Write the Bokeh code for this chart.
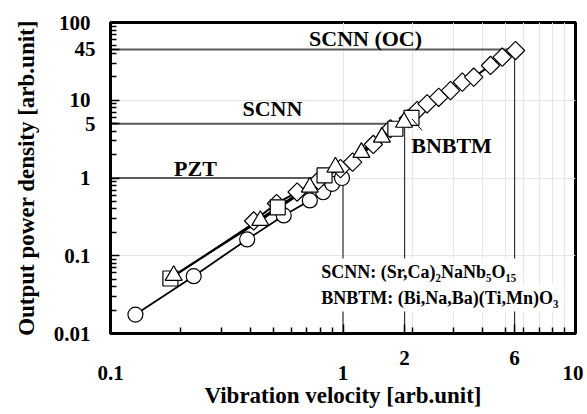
import math
from bokeh.plotting import figure
from bokeh.models import FixedTicker, Label, LogAxis
from bokeh.embed import file_html
from bokeh.resources import INLINE

# ---- data ----
pzt_v = [0.128, 0.228, 0.387, 0.556, 0.72, 0.822, 0.899, 0.99]
pzt_p = [0.0175, 0.0546, 0.162, 0.33, 0.514, 0.656, 0.842, 1.0]

tri_v = [0.187, 0.441, 0.72, 0.928, 1.20, 1.47, 1.83]
tri_p = [0.0557, 0.284, 0.76, 1.38, 2.13, 3.35, 5.2]

sq_v = [0.181, 0.524, 0.833, 1.68, 1.97]
sq_p = [0.051, 0.42, 1.08, 4.3, 5.94]

dia_v = [0.413, 0.518, 0.635, 0.785, 0.975, 1.10, 1.35, 1.60, 1.91, 2.085,
         2.30, 2.58, 2.90, 3.26, 3.65, 4.31, 4.84, 5.52]
dia_p = [0.28, 0.47, 0.66, 0.93, 1.32, 1.60, 2.7, 4.3, 5.82, 7.38,
         9.0, 10.9, 13.3, 17.1, 19.8, 28.0, 35.8, 43.6]

# reference levels (power) and the velocities where they are reached
ref_power = [1, 5, 45]
ref_velocity = [1.0, 1.84, 5.47]
ref_power_labels = ["1", "5", "45"]
ref_velocity_labels = ["1", "2", "6"]

x_decades = [0.1, 1, 10]
y_decades = [0.01, 0.1, 1, 10, 100]
x_decade_labels = ["0.1", "1", "10"]
y_decade_labels = ["0.01", "0.1", "1", "10", "100"]

series_names = ["PZT", "SCNN", "SCNN (OC)", "BNBTM"]
name_pos_v = [0.232, 0.497, 1.25, 2.93]
name_pos_p = [1.32, 7.8, 62, 2.62]

formula_lines = ["SCNN: (Sr,Ca)\u2082NaNb\u2085O\u2081\u2085",
                 "BNBTM: (Bi,Na,Ba)(Ti,Mn)O\u2083"]
formula_v = [0.775, 0.775]
formula_p = [0.0609, 0.029]

leader_v = [1.98, 2.19]
leader_p = [5.77, 4.08]

FONT = "Liberation Serif"


def minors(majors):
    out = []
    for m in majors[:-1]:
        out += [m * k for k in range(2, 10)]
    return out


p = figure(width=583, height=413, x_axis_type="log", y_axis_type="log",
           x_axis_location=None, y_axis_location=None,
           x_range=(0.1, 10), y_range=(0.01, 100),
           output_backend="svg", toolbar_location=None,
           min_border_left=110, min_border_right=8,
           min_border_top=22, min_border_bottom=80)

p.outline_line_color = "black"
p.outline_line_width = 3
p.background_fill_color = "white"
p.border_fill_color = "white"


def style_labels(ax, size="21px"):
    ax.major_label_text_font = FONT
    ax.major_label_text_font_style = "bold"
    ax.major_label_text_font_size = size
    ax.major_label_text_color = "black"
    ax.axis_label_text_font = FONT
    ax.axis_label_text_font_style = "bold"
    ax.axis_label_text_color = "black"


def inner_axis(decades, special_vals, special_labels, standoff):
    ticks = sorted(set(decades) | set(special_vals[1:]))
    overrides = {d: "" for d in decades}
    for v, lab in zip(special_vals[1:], special_labels[1:]):
        overrides[v] = lab
    ax = LogAxis(ticker=FixedTicker(ticks=ticks, minor_ticks=minors(decades)),
                 major_label_overrides=overrides)
    ax.axis_line_width = 3
    ax.axis_line_color = "black"
    ax.major_tick_in = 9
    ax.major_tick_out = 0
    ax.minor_tick_in = 6
    ax.minor_tick_out = 0
    ax.major_tick_line_width = 1.5
    ax.minor_tick_line_width = 1.5
    ax.major_label_standoff = standoff
    style_labels(ax)
    return ax


def outer_axis(decades, labels, standoff, title, title_size, title_standoff):
    ax = LogAxis(ticker=FixedTicker(ticks=decades, minor_ticks=[]),
                 major_label_overrides=dict(zip(decades, labels)))
    ax.axis_line_color = None
    ax.major_tick_line_color = None
    ax.minor_tick_line_color = None
    ax.major_tick_in = 0
    ax.major_tick_out = 0
    ax.minor_tick_in = 0
    ax.minor_tick_out = 0
    ax.major_label_standoff = standoff
    ax.axis_label = title
    ax.axis_label_standoff = title_standoff
    style_labels(ax)
    ax.axis_label_text_font_size = title_size
    return ax


p.add_layout(inner_axis(x_decades, ref_velocity, ref_velocity_labels, 17), "below")
p.add_layout(outer_axis(x_decades, x_decade_labels, -2,
                        "Vibration velocity [arb.unit]", "23px", 0), "below")
p.add_layout(inner_axis(y_decades, ref_power, ref_power_labels, 15), "left")
p.add_layout(outer_axis(y_decades, y_decade_labels, -19,
                        "Output power density [arb.unit]", "23px", 12), "left")

# reference lines: horizontal from the left edge, vertical down to the bottom
x_left = p.x_range.start
y_bottom = p.y_range.start
for pw, vel in zip(ref_power, ref_velocity):
    p.line([x_left, vel], [pw, pw], line_color="#5a5a5a", line_width=2)
    p.line([vel, vel], [pw, y_bottom], line_color="#333333", line_width=1.2)

# series lines
p.line(pzt_v, pzt_p, line_color="black", line_width=1.8)
p.line(dia_v, dia_p, line_color="black", line_width=2)
p.line(sq_v, sq_p, line_color="black", line_width=2)
p.line(tri_v, tri_p, line_color="black", line_width=2)

# markers
p.scatter(pzt_v, pzt_p, marker="circle", size=15, fill_color="white",
          line_color="black", line_width=1.2)
p.scatter(dia_v, dia_p, marker="square", size=13, angle=math.pi / 4,
          fill_color="white", line_color="black", line_width=1.2)
p.scatter(sq_v, sq_p, marker="square", size=15, fill_color="white",
          line_color="black", line_width=1.2)
p.scatter(tri_v, tri_p, marker="triangle", size=17, fill_color="white",
          line_color="black", line_width=1.2)

# leader line to BNBTM
p.line(leader_v, leader_p, line_color="black", line_width=1)

# series names
for name, vx, py in zip(series_names, name_pos_v, name_pos_p):
    p.add_layout(Label(x=vx, y=py, text=name, text_align="center",
                       text_baseline="middle", text_font=FONT,
                       text_font_style="bold", text_font_size="22px",
                       text_color="black"))

# formula box
for txt, vx, py in zip(formula_lines, formula_v, formula_p):
    p.add_layout(Label(x=vx, y=py, text=txt, text_align="left",
                       text_baseline="middle", text_font=FONT,
                       text_font_style="bold", text_font_size="18px",
                       text_color="black", background_fill_color="white",
                       padding=4))

open("out.html", "w").write(file_html(p, INLINE))
